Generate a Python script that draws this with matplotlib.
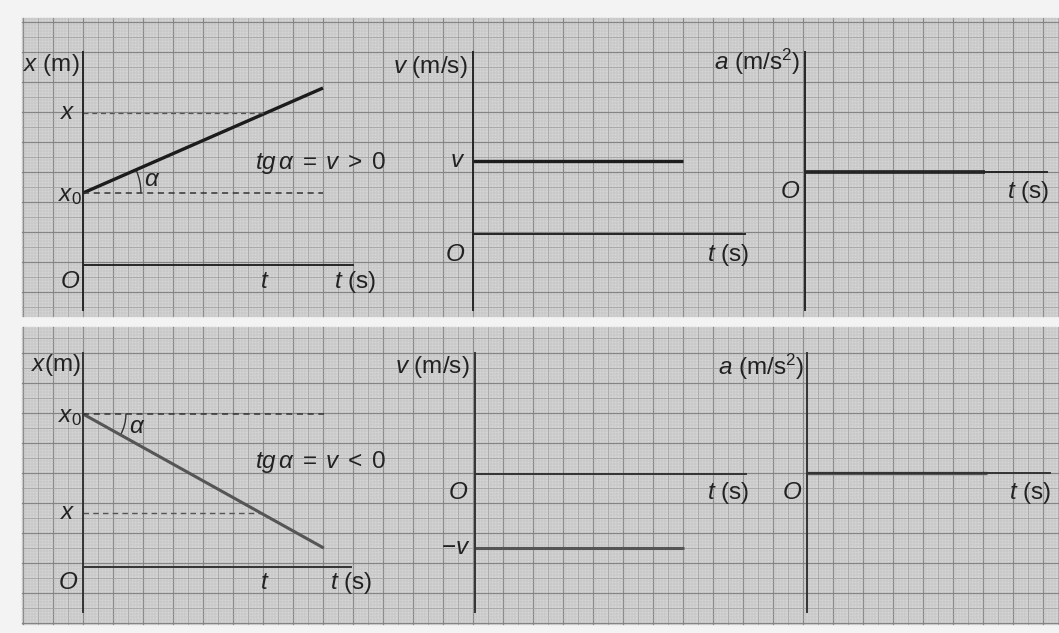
import matplotlib
matplotlib.use("Agg")
import matplotlib.pyplot as plt
from matplotlib.patches import Arc
import numpy as np

plt.rcParams.update(
    {
        "font.family": ["Liberation Sans", "DejaVu Sans"],
        "mathtext.fontset": "custom",
        "mathtext.rm": "Liberation Sans",
        "mathtext.it": "Liberation Sans:italic",
        "mathtext.bf": "Liberation Sans:bold",
        "font.size": 17.5,
    }
)

W, H = 1059, 633
UNIT = 30  # one big square of the graph paper, in pixels

# values are read in big squares of the paper
# uniform motion with v > 0
t_pos = [0.0, 8.0]
x_pos = [2.4, 5.9]
t_mark_pos, x_mark_pos = 6.1, 5.07
t_v_pos = [0.0, 7.0]
v_pos = [2.43, 2.43]
t_a_pos = [0.0, 6.0]
a_pos = [0.0, 0.0]

# uniform motion with v < 0
t_neg = [0.0, 8.03]
x_neg = [5.1, 0.63]
t_mark_neg, x_mark_neg = 6.0, 1.8
t_v_neg = [0.0, 6.97]
v_neg = [-2.47, -2.47]
t_a_neg = [0.0, 6.0]
a_neg = [0.0, 0.0]

INK = "#222222"
fig = plt.figure(figsize=(W / 100, H / 100), dpi=100)

# ---- graph paper background ----
bg = fig.add_axes([0, 0, 1, 1])
bg.set_xlim(0, W)
bg.set_ylim(H, 0)
bg.axis("off")
bg.add_patch(plt.Rectangle((0, 0), W, H, color="#f3f3f3", zorder=0))

sheets = [(18, 316, 22), (327, 624, 23)]  # top, bottom, first major row
for top, bottom, row0 in sheets:
    bg.add_patch(plt.Rectangle((22, top), W - 22, bottom - top, color="#d5d5d5", zorder=0))
    xs = np.arange(23 - 30, W + 1, 3)
    ys = np.arange(row0 - 30 * 12, bottom + 1, 3)
    ys = ys[ys >= top]
    xs = xs[xs >= 22]
    for x in xs:
        k = (x - 23) % 30
        if k == 0:
            c, lw = "#858585", 0.9
        elif k == 15:
            c, lw = "#a2a2a2", 0.6
        else:
            c, lw = "#bcbcbc", 0.35
        bg.plot([x, x], [top, bottom], color=c, lw=lw, zorder=1)
    for y in ys:
        k = (y - row0) % 30
        if k == 0:
            c, lw = "#858585", 0.9
        elif k == 15:
            c, lw = "#a2a2a2", 0.6
        else:
            c, lw = "#bcbcbc", 0.35
        bg.plot([22, W], [y, y], color=c, lw=lw, zorder=1)


def graph_axes(ox, oy, xlim, ylim, t_end, ink):
    # ox, oy: pixel position of the origin O, from the top left corner
    left = (ox + xlim[0] * UNIT) / W
    bottom = 1 - (oy - ylim[0] * UNIT) / H
    width = (xlim[1] - xlim[0]) * UNIT / W
    height = (ylim[1] - ylim[0]) * UNIT / H
    ax = fig.add_axes([left, bottom, width, height])
    ax.set_xlim(*xlim)
    ax.set_ylim(*ylim)
    ax.patch.set_alpha(0)
    ax.set_xticks([])
    ax.set_yticks([])
    for s in ["top", "right"]:
        ax.spines[s].set_visible(False)
    for s in ["left", "bottom"]:
        ax.spines[s].set_position(("data", 0))
        ax.spines[s].set_color(ink)
        ax.spines[s].set_linewidth(1.4)
    ax.spines["bottom"].set_bounds(0, t_end)
    return ax


def label(ax, x, y, s, ha="center", **kw):
    ax.text(x, y, s, ha=ha, va="center", color=INK, clip_on=False, **kw)


# ---- top row: v > 0 ----
line_top = "#1c1c1c"
ax = graph_axes(83, 265, (-2.2, 10.5), (-1.5, 7.1), 9.0, "#262626")
ax.plot(t_pos, x_pos, color=line_top, lw=2.4, solid_capstyle="butt")
ax.plot([0, t_pos[-1]], [x_pos[0], x_pos[0]], color="#333333", lw=1.1, ls=(0, (4, 3)))
ax.plot([0, t_mark_pos], [x_mark_pos, x_mark_pos], color="#555555", lw=0.9, ls=(0, (4, 3)))
ang = np.degrees(np.arctan2(x_pos[1] - x_pos[0], t_pos[1] - t_pos[0]))
ax.add_patch(Arc((0, x_pos[0]), 3.86, 3.86, theta1=0, theta2=ang, color="#333333", lw=1.0))
label(ax, -0.1, 6.67, "$x$ (m)", ha="right")
label(ax, -0.25, x_mark_pos, "$x$", ha="right")
label(ax, -0.03, 2.3, r"$x_\mathrm{0}$", ha="right")
label(ax, -0.43, -0.57, "$O$")
label(ax, t_mark_pos - 0.03, -0.57, "$t$")
label(ax, 9.07, -0.57, "$t$ (s)")
label(ax, 2.3, 2.83, r"$\alpha$")
label(ax, 5.73, 3.4, r"$tg\,\alpha\;=\;v\;>\;0$", ha="left")

ax = graph_axes(473, 234, (-2.8, 9.5), (-2.53, 6.07), 9.07, "#262626")
ax.plot(t_v_pos, v_pos, color=line_top, lw=2.4, solid_capstyle="butt")
label(ax, -0.17, 5.57, "$v$ (m/s)", ha="right")
label(ax, -0.5, v_pos[0], "$v$")
label(ax, -0.6, -0.7, "$O$")
label(ax, 9.2, -0.7, "$t$ (s)", ha="right")

ax = graph_axes(805, 172, (-3.2, 8.5), (-4.6, 4.0), 8.07, "#262626")
ax.plot(t_a_pos, a_pos, color=line_top, lw=2.6, solid_capstyle="butt")
label(ax, -0.17, 3.67, "$a$ (m/s$^2$)", ha="right")
label(ax, -0.5, -0.67, "$O$")
label(ax, 8.15, -0.67, "$t$ (s)", ha="right")

# ---- bottom row: v < 0 ----
line_bot = "#555555"
ax = graph_axes(83, 567, (-2.2, 10.5), (-1.5, 7.13), 8.93, "#333333")
ax.plot(t_neg, x_neg, color=line_bot, lw=2.2, solid_capstyle="butt")
ax.plot([0, t_neg[-1]], [x_neg[0], x_neg[0]], color="#333333", lw=1.1, ls=(0, (4, 3)))
ax.plot([0, t_mark_neg], [x_mark_neg, x_mark_neg], color="#555555", lw=1.0, ls=(0, (4, 3)))
ang = np.degrees(np.arctan2(x_neg[1] - x_neg[0], t_neg[1] - t_neg[0]))
ax.add_patch(Arc((0, x_neg[0]), 2.86, 2.86, theta1=ang, theta2=0, color="#333333", lw=1.0))
label(ax, -0.08, 6.73, "$x$(m)", ha="right")
label(ax, -0.03, 5.0, r"$x_\mathrm{0}$", ha="right")
label(ax, 1.8, 4.67, r"$\alpha$")
label(ax, 5.73, 3.5, r"$tg\,\alpha\;=\;v\;<\;0$", ha="left")
label(ax, -0.23, x_mark_neg, "$x$", ha="right")
label(ax, -0.5, -0.53, "$O$")
label(ax, t_mark_neg + 0.07, -0.53, "$t$")
label(ax, 8.93, -0.53, "$t$ (s)")

ax = graph_axes(475, 474, (-2.8, 9.5), (-4.6, 4.03), 9.03, "#333333")
ax.plot(t_v_neg, v_neg, color=line_bot, lw=2.2, solid_capstyle="butt")
label(ax, -0.17, 3.57, "$v$ (m/s)", ha="right")
label(ax, -0.57, -0.63, "$O$")
label(ax, 9.15, -0.63, "$t$ (s)", ha="right")
label(ax, -0.15, v_neg[0], "$-v$", ha="right")

ax = graph_axes(807, 473, (-3.2, 8.5), (-4.63, 4.0), 8.1, "#333333")
ax.plot(t_a_neg, a_neg, color=line_bot, lw=2.4, solid_capstyle="butt")
label(ax, -0.1, 3.53, "$a$ (m/s$^2$)", ha="right")
label(ax, -0.5, -0.67, "$O$")
label(ax, 8.15, -0.67, "$t$ (s)", ha="right")

fig.savefig("out.png", dpi=100)
